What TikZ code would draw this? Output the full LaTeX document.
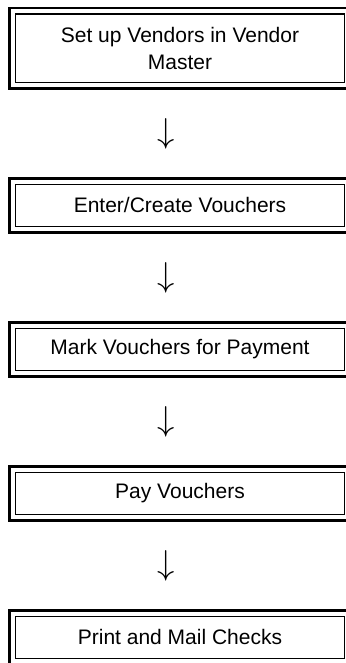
\documentclass[tikz,border=0pt]{standalone}
\usepackage{fontspec}
\setmainfont{Liberation Sans}
\usetikzlibrary{
  calc,
  fit,
  positioning
}

\begin{document}
\begin{tikzpicture}[
  stage/.style={rectangle, draw, line width=0.85pt, outer sep=0pt, minimum width=164.4pt, minimum height=21pt, align=center, font=\fontsize{10.5}{13.7}\selectfont},
  frame/.style={rectangle, draw, line width=1.25pt, inner sep=3pt},
  down/.style={inner sep=0pt, font=\fontsize{16}{16}\selectfont},
]
\useasboundingbox (-90pt,24.15pt) rectangle (83pt,-307.35pt);

% Nodes
\node[stage, minimum height=34.15pt] (vendors) {Set up Vendors in Vendor\\Master};
\node[stage, below=51pt of vendors] (enter) {Enter/Create Vouchers};
\node[stage, below=51pt of enter] (mark) {Mark Vouchers for Payment};
\node[stage, below=51pt of mark] (pay) {Pay Vouchers};
\node[stage, below=51pt of pay] (checks) {Print and Mail Checks};

% Outer frames
\node[frame, fit=(vendors)] (vendors-frame) {};
\node[frame, fit=(enter)] (enter-frame) {};
\node[frame, fit=(mark)] (mark-frame) {};
\node[frame, fit=(pay)] (pay-frame) {};
\node[frame, fit=(checks)] (checks-frame) {};

% Arrows
\node[down] (arr1) at ($(vendors.south)!0.5!(enter.north)+(-7pt,0)$) {$\downarrow$};
\node[down] (arr2) at ($(enter.south)!0.5!(mark.north)+(-7pt,0)$) {$\downarrow$};
\node[down] (arr3) at ($(mark.south)!0.5!(pay.north)+(-7pt,0)$) {$\downarrow$};
\node[down] (arr4) at ($(pay.south)!0.5!(checks.north)+(-7pt,0)$) {$\downarrow$};
\end{tikzpicture}
\end{document}
